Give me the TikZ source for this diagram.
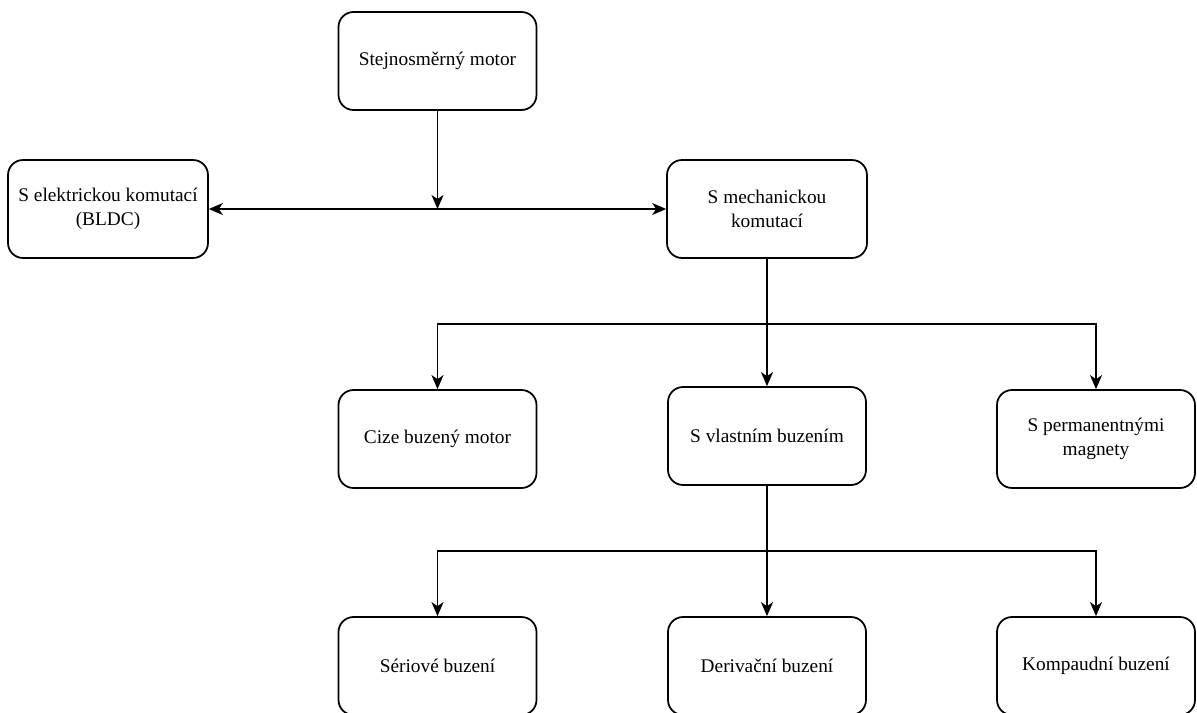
\documentclass[tikz,border=0pt]{standalone}
\usepackage{fontspec}
\setmainfont{Liberation Serif}
\usetikzlibrary{arrows.meta}
\begin{document}
\begin{tikzpicture}[x=.02cm,y=-.02cm,
  box/.style={draw,line width=1pt,rounded corners=.3cm,minimum width=3.96cm,minimum height=1.96cm,align=center,font=\rmfamily\fontsize{11}{13.5}\selectfont},
  arr/.style={line width=1pt,-{Stealth[length=.28cm,width=.24cm,inset=.08cm]}}]
\useasboundingbox (0,0) rectangle (1197,713);
\begin{scope}
\clip (0,0) rectangle (1197,713);
\node[box] (dc) at (437.5,61) {Stejnosměrný motor};
\node[box,minimum width=4cm] (bldc) at (108,209) {S elektrickou komutací\\(BLDC)};
\node[box,minimum width=4cm] (mech) at (767,209) {S mechanickou\\komutací};
\node[box] (cize) at (437.5,439) {Cize buzený motor};
\node[box] (vlast) at (767,436) {S vlastním buzením};
\node[box] (perm) at (1096,439) {S permanentnými\\magnety};
\node[box] (ser) at (437.5,666) {Sériové buzení};
\node[box] (der) at (767,666) {Derivační buzení};
\node[box] (komp) at (1096,666) {Kompaudní buzení};
\coordinate (split) at (437.5,209);
\coordinate (fork1) at (767,324);
\coordinate (fork2) at (767,551);
\draw[arr,{Stealth[length=.28cm,width=.24cm,inset=.08cm]}-{Stealth[length=.28cm,width=.24cm,inset=.08cm]}] (bldc.east) -- (mech.west);
\draw[arr] (dc.south) -- (split);
\draw[arr] (mech.south) -- (vlast.north);
\draw[arr] (fork1) -| (cize.north);
\draw[arr] (fork1) -| (perm.north);
\draw[arr] (vlast.south) -- (der.north);
\draw[arr] (fork2) -| (ser.north);
\draw[arr] (fork2) -| (komp.north);
\end{scope}
\end{tikzpicture}
\end{document}
